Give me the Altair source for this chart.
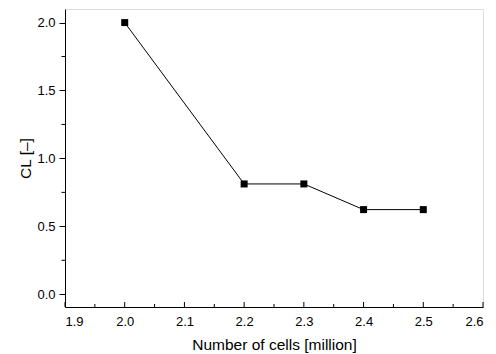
import altair as alt
import pandas as pd

cells = [2.0, 2.2, 2.3, 2.4, 2.5]
cl = [2.0, 0.812, 0.812, 0.623, 0.623]

x_major = [1.9, 2.0, 2.1, 2.2, 2.3, 2.4, 2.5, 2.6]
x_minor = [1.95, 2.05, 2.15, 2.25, 2.35, 2.45, 2.55]
y_major = [0.0, 0.5, 1.0, 1.5, 2.0]
y_minor = [0.25, 0.75, 1.25, 1.75]

W, H = 418, 298
FONT = "Liberation Sans"

df = pd.DataFrame({"x": cells, "y": cl})
xs = alt.Scale(domain=[1.9, 2.6], nice=False, zero=False)
ys = alt.Scale(domain=[-0.094, 2.1], nice=False, zero=False)

xaxis = alt.Axis(values=x_major, format=".1f", ticks=False, grid=False,
                 domainColor="black", domainWidth=1, labelPadding=8,
                 labelFontSize=13, labelColor="black", labelFont=FONT,
                 title="Number of cells [million]", titleFontSize=15.5,
                 titleFont=FONT, titleFontWeight="normal", titleColor="black",
                 titlePadding=9)
yaxis = alt.Axis(values=y_major, format=".1f", tickSize=6, tickColor="black",
                 grid=False, domainColor="black", domainWidth=1, labelPadding=4,
                 labelFontSize=13, labelColor="black", labelFont=FONT,
                 title="CL [–]", titleFontSize=15.5, titleFont=FONT,
                 titleFontWeight="normal", titleColor="black", titlePadding=3)

line = alt.Chart(df).mark_line(color="black", strokeWidth=1).encode(
    x=alt.X("x:Q", scale=xs, axis=xaxis),
    y=alt.Y("y:Q", scale=ys, axis=yaxis),
)
pts = alt.Chart(df).mark_point(shape="square", filled=True, color="black",
                               size=49, opacity=1).encode(
    x=alt.X("x:Q", scale=xs), y=alt.Y("y:Q", scale=ys))

xmaj = alt.Chart(pd.DataFrame({"x": x_major})).mark_rule(color="black").encode(
    x=alt.X("x:Q", scale=xs), y=alt.value(H), y2=alt.value(H - 5))
xmin = alt.Chart(pd.DataFrame({"x": x_minor})).mark_rule(color="black").encode(
    x=alt.X("x:Q", scale=xs), y=alt.value(H), y2=alt.value(H - 3))
ymin = alt.Chart(pd.DataFrame({"y": y_minor})).mark_rule(color="black").encode(
    y=alt.Y("y:Q", scale=ys), x=alt.value(0), x2=alt.value(-3.5))

chart = alt.layer(line, xmaj, xmin, ymin, pts).properties(
    width=W, height=H,
    autosize=alt.AutoSizeParams(type="none"),
    padding={"left": 65, "top": 9, "right": 13, "bottom": 47},
).configure_view(stroke=None).configure(background="white")

chart.save("out.html", embed_options={"renderer": "svg", "actions": False})
